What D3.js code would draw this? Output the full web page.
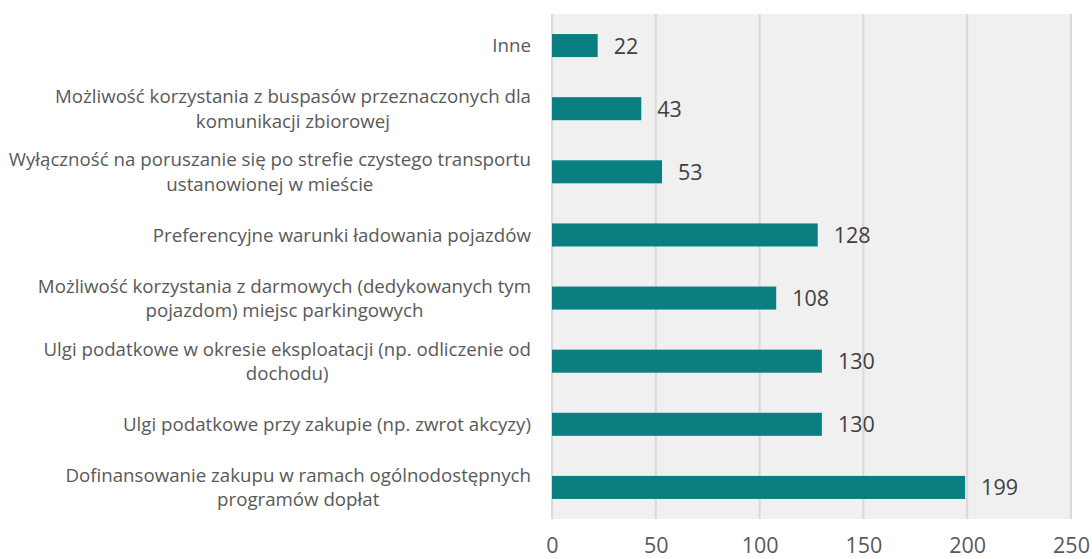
<!DOCTYPE html>
<html>
<head>
<meta charset="utf-8">
<script src="https://cdn.jsdelivr.net/npm/d3@7"></script>
<style>
  body { margin: 0; background: #fff; }
  svg { display: block; font-family: "Open Sans", "Noto Sans", sans-serif; }
</style>
</head>
<body>
<div id="chart"></div>
<script>
'use strict';

// Category labels (line breaks as in the original chart)
const categories = [
    ['Inne'],
    ['Możliwość korzystania z buspasów przeznaczonych dla', 'komunikacji zbiorowej'],
    ['Wyłączność na poruszanie się po strefie czystego transportu', 'ustanowionej w mieście'],
    ['Preferencyjne warunki ładowania pojazdów'],
    ['Możliwość korzystania z darmowych (dedykowanych tym', 'pojazdom) miejsc parkingowych'],
    ['Ulgi podatkowe w okresie eksploatacji (np. odliczenie od', 'dochodu)'],
    ['Ulgi podatkowe przy zakupie (np. zwrot akcyzy)'],
    ['Dofinansowanie zakupu w ramach ogólnodostępnych', 'programów dopłat']
];
const values = [22, 43, 53, 128, 108, 130, 130, 199];
const xTicks = [0, 50, 100, 150, 200, 250];

const width = 1092, height = 559;
const margin = { top: 14, right: 21, bottom: 40, left: 552 };

const svg = d3.select('#chart').append('svg')
    .attr('width', width)
    .attr('height', height);

const x = d3.scaleLinear()
    .domain([0, 250])
    .range([margin.left, width - margin.right]);

const y = d3.scaleBand()
    .domain(d3.range(categories.length))
    .range([margin.top, height - margin.bottom])
    .paddingInner(0.635)
    .paddingOuter(0.3175);

// Plot area background
svg.append('rect')
    .attr('x', x(0))
    .attr('y', margin.top)
    .attr('width', x(250) - x(0))
    .attr('height', height - margin.bottom - margin.top)
    .attr('fill', '#f0f0f0');

// Vertical gridlines
svg.append('g')
    .selectAll('line')
    .data(xTicks)
    .join('line')
    .attr('x1', d => x(d))
    .attr('x2', d => x(d))
    .attr('y1', margin.top)
    .attr('y2', height - margin.bottom)
    .attr('stroke', '#d9d9d9')
    .attr('stroke-width', 2);

// X axis labels (baseline placed near the bottom edge)
const xAxis = svg.append('g')
    .attr('transform', `translate(0, 553)`)
    .call(d3.axisBottom(x).tickValues(xTicks).tickSize(0).tickPadding(0));
xAxis.select('.domain').remove();
xAxis.selectAll('text')
    .attr('y', 0)
    .attr('dy', 0)
    .attr('font-size', 21.5)
    .attr('font-family', '"Open Sans", sans-serif')
    .attr('fill', '#595959');

// Bars
svg.append('g')
    .selectAll('rect')
    .data(values)
    .join('rect')
    .attr('x', x(0))
    .attr('y', (d, i) => y(i))
    .attr('width', d => x(d) - x(0))
    .attr('height', y.bandwidth())
    .attr('fill', '#0a7f82');

// Value labels
svg.append('g')
    .selectAll('text')
    .data(values)
    .join('text')
    .attr('x', d => x(d) + 16)
    .attr('y', (d, i) => y(i) + y.bandwidth() / 2)
    .attr('dy', '0.37em')
    .attr('font-size', 21.5)
    .attr('fill', '#404040')
    .text(d => d);

// Category labels: a centred block whose right edge sits left of the plot
const labelRight = 531;
const lineH = 24.5;
const labelGroups = svg.append('g')
    .selectAll('g')
    .data(categories)
    .join('g');

labelGroups.each(function (lines, i) {
    const g = d3.select(this);
    const cy = y(i) + y.bandwidth() / 2;
    const texts = g.selectAll('text')
        .data(lines)
        .join('text')
        .attr('font-size', 18.7)
        .attr('fill', '#595959')
        .attr('text-anchor', 'middle')
        .attr('y', (d, k) => cy + (k - (lines.length - 1) / 2) * lineH)
        .attr('dy', '0.36em')
        .text(d => d);
    const w = d3.max(texts.nodes(), n => n.getComputedTextLength());
    texts.attr('x', labelRight - w / 2);
});
</script>
</body>
</html>
